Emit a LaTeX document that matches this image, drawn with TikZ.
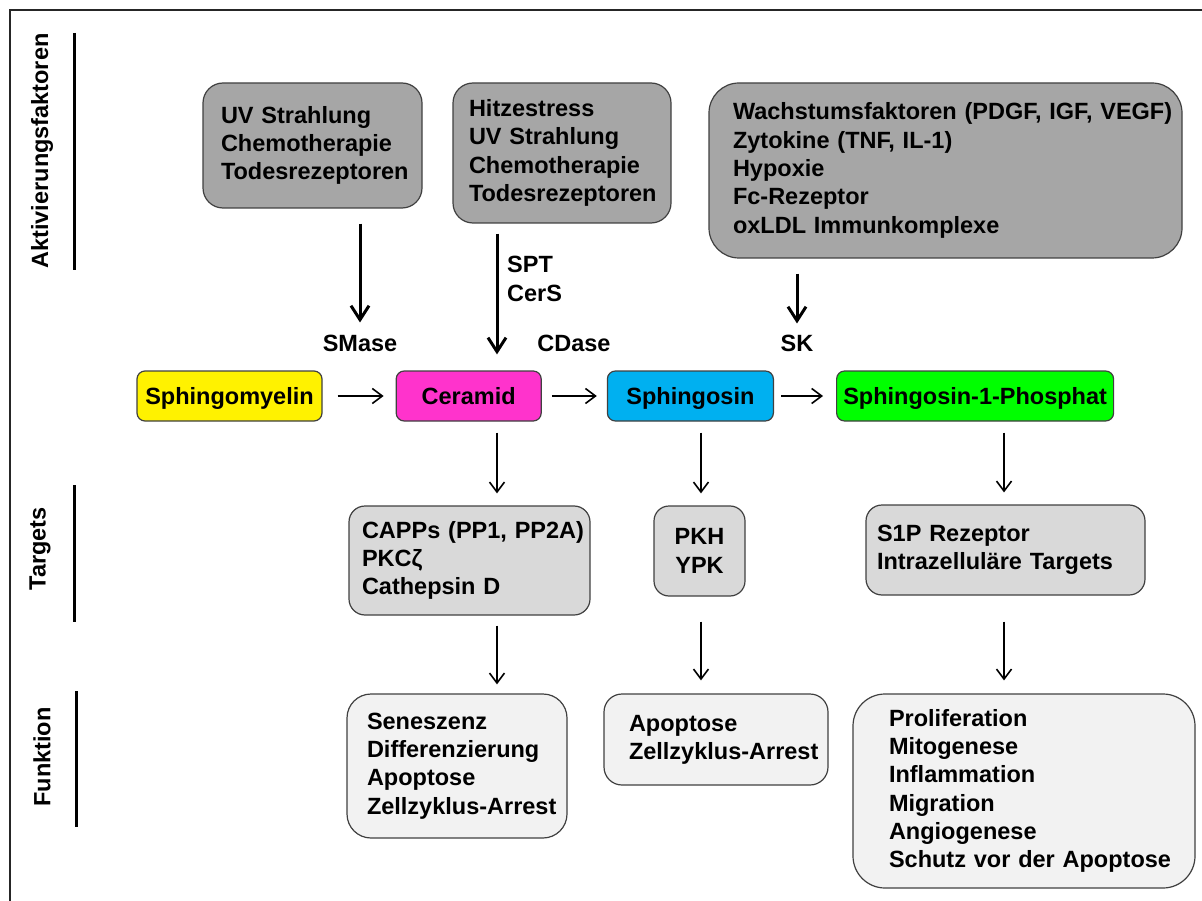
\documentclass[tikz,border=0pt]{standalone}
\usepackage{fontspec}
\setmainfont{Liberation Sans}
\usetikzlibrary{arrows.meta}
\usetikzlibrary{positioning}

\definecolor{actgray}{HTML}{A6A6A6}
\definecolor{targetgray}{HTML}{D9D9D9}
\definecolor{funcgray}{HTML}{F2F2F2}
\definecolor{ceramidpink}{HTML}{FF33CC}
\definecolor{sphingosinblue}{HTML}{00B0F0}
\definecolor{sonepgreen}{HTML}{00FF00}
\definecolor{boxline}{HTML}{404040}

\newcommand{\diagfont}{\fontsize{23.5}{28.3}\selectfont\bfseries
  \hyphenpenalty=10000 \exhyphenpenalty=10000 }

\tikzset {
  % thin arrow between two boxes
  arr/.style = {
    draw = black,
    line width = 1.6pt,
    -{Straight Barb[length=10pt, width=15pt]},
    shorten <= 11pt,
    shorten >= 12pt
  },
  % thick arrow from the activating factors
  tarr/.style = {
    arr,
    line width = 3pt,
    -{Straight Barb[length=14pt, width=18pt]}
  },
  % vertical bar next to a row title
  side bar/.style = {
    draw = black,
    line width = 3pt
  },
  frame/.style = {
    draw = black!85,
    line width = 2pt
  }
}
\tikzset {
  box/.style = {
    draw = boxline,
    line width = 1.2pt,
    font = \diagfont,
    inner ysep = 0
  },
  % metabolite of the main row
  metabolite/.style = {
    box,
    rounded corners = 8pt,
    minimum height = 50pt,
    text height = 21.8pt,
    text depth = 5pt,
    inner xsep = 0
  },
  % activating factors
  act/.style = {
    box,
    fill = actgray,
    align = left,
    rounded corners = 20pt
  },
  % targets
  target/.style = {
    box,
    fill = targetgray,
    align = left,
    rounded corners = 16pt
  },
  % functions
  func/.style = {
    box,
    fill = funcgray,
    align = left,
    rounded corners = 24pt
  },
  % enzyme label
  enzyme/.style = {
    font = \diagfont,
    inner sep = 2pt
  },
  % row title
  side label/.style = {
    font = \diagfont,
    rotate = 90,
    inner sep = 0
  }
}

\begin{document}
\begin{tikzpicture}[x=1pt, y=-1pt]
    \useasboundingbox (0,0) rectangle (1202,901);
    \draw[frame] (9.5,901) |- (1202,10);

    \node[side label] (act-label) at (42,151) {Aktivierungsfaktoren};
    \node[side label] (targets-label) at (40,549) {Targets};
    \node[side label] (func-label) at (42,757) {Funktion};
    \draw[side bar] (74,33) -- (74,270);
    \draw[side bar] (74,485) -- (74,622);
    \draw[side bar] (76,691) -- (76,827);

    \node[metabolite, fill=yellow, minimum width=185pt] (sphingomyelin) at (229.5,396) {Sphingomyelin};
    \node[metabolite, fill=ceramidpink, minimum width=145pt] (ceramid) [right=73pt of sphingomyelin] {Ceramid};
    \node[metabolite, fill=sphingosinblue, minimum width=166pt] (sphingosin) [right=65pt of ceramid] {Sphingosin};
    \node[metabolite, fill=sonepgreen, minimum width=277pt] (s1p) [right=62pt of sphingosin] {Sphingosin-1-Phosphat};

    \node[act, text width=183pt, inner xsep=18pt, minimum height=125pt] (uv-chemo) at (312.5,145.5)
      {UV Strahlung\\Chemotherapie\\Todesrezeptoren};
    \node[act, text width=186pt, inner xsep=16pt, minimum height=140pt] (heat-uv) at (562,153)
      {Hitzestress\\UV Strahlung\\Chemotherapie\\Todesrezeptoren};
    \node[act, text width=425pt, inner xsep=24pt, minimum height=175pt, rounded corners=30pt] (growth) at (945.5,170.5)
      {\mbox{Wachstumsfaktoren (PDGF, IGF, VEGF)}\\Zytokine (TNF, IL-1)\\Hypoxie\\Fc-Rezeptor\\oxLDL Immunkomplexe};

    \node[enzyme] (smase) at (360,343) {SMase};
    \node[enzyme] (cdase) at (574,343) {CDase};
    \node[enzyme] (sk) at (797,343) {SK};
    \node[enzyme, align=left, anchor=west] (spt-cers) at (505,279) {SPT\\CerS};

    \node[target, text width=215pt, inner xsep=13pt, minimum height=109pt] (cer-targets) at (469.5,560.5)
      {\mbox{CAPPs (PP1, PP2A)}\\PKCζ\\Cathepsin D};
    \node[target, align=center, minimum width=91pt, minimum height=90pt, rounded corners=15pt] (sph-targets) at (699.5,551)
      {PKH\\YPK};
    \node[target, text width=257pt, inner xsep=11pt, minimum height=90pt] (s1p-targets) at (1005.5,550)
      {S1P Rezeptor\\Intrazelluläre Targets};

    \node[func, text width=180pt, inner xsep=20pt, minimum height=144pt] (cer-func) at (457,766)
      {Seneszenz\\Differenzierung\\Apoptose\\Zellzyklus-Arrest};
    \node[func, text width=174pt, inner xsep=25pt, minimum height=91pt, rounded corners=18pt] (sph-func) at (716,739.5)
      {Apoptose\\Zellzyklus-Arrest};
    \node[func, text width=270pt, inner xsep=36pt, minimum height=194pt, rounded corners=32pt] (s1p-func) at (1024,791)
      {Proliferation\\Mitogenese\\Inflammation\\Migration\\Angiogenese\\\mbox{Schutz vor der Apoptose}};

    \coordinate (cer-col) at (497,0);
    \coordinate (sph-col) at (701,0);
    \coordinate (s1p-col) at (1004,0);

    \draw[tarr, shorten <=15pt, shorten >=10pt] (uv-chemo.south -| smase)
    -- (smase);
    \draw[tarr, shorten <=10pt, shorten >=16pt] (heat-uv.south -| cer-col)
    -- (ceramid.north -| cer-col);
    \draw[tarr, shorten <=15pt, shorten >=9pt] (growth.south -| sk)
    -- (sk);

    \draw[arr, shorten <=15pt] (sphingomyelin)
    -- (ceramid);
    \draw[arr, shorten <=10pt, shorten >=10pt] (ceramid)
    -- (sphingosin);
    \draw[arr, shorten <=7pt, shorten >=13pt] (sphingosin)
    -- (s1p);

    \draw[arr] (ceramid.south -| cer-col)
    -- (cer-targets.north -| cer-col);
    \draw[arr, shorten <=10pt, shorten >=9pt] (cer-targets.south -| cer-col)
    -- (cer-func.north -| cer-col);
    \draw[arr] (sphingosin.south -| sph-col)
    -- (sph-targets.north -| sph-col);
    \draw[arr, shorten <=25pt, shorten >=13pt] (sph-targets.south -| sph-col)
    -- (sph-func.north -| sph-col);
    \draw[arr] (s1p.south -| s1p-col)
    -- (s1p-targets.north -| s1p-col);
    \draw[arr, shorten <=26pt, shorten >=13pt] (s1p-targets.south -| s1p-col)
    -- (s1p-func.north -| s1p-col);
\end{tikzpicture}
\end{document}
